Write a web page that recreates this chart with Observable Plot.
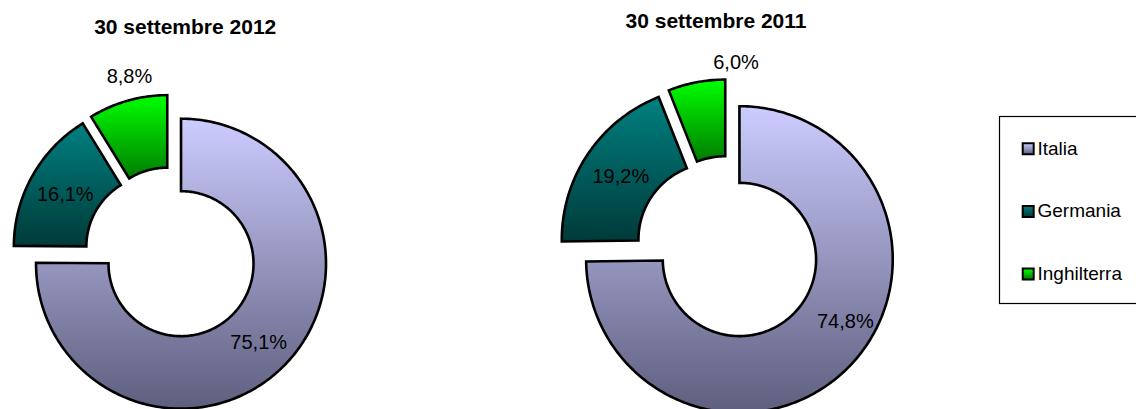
<!DOCTYPE html>
<html>
<head>
<meta charset="utf-8">
<script src="https://cdn.jsdelivr.net/npm/d3@7"></script>
<script src="https://cdn.jsdelivr.net/npm/@observablehq/plot@0.6"></script>
<style>
  html, body { margin: 0; padding: 0; background: #fff; overflow: hidden; }
  #chart { width: 1136px; height: 409px; position: relative; }
</style>
</head>
<body>
<div id="chart"></div>
<script>
// ---------------- data ----------------
const categories = ["Italia", "Germania", "Inghilterra"];
const periods = ["30 settembre 2012", "30 settembre 2011"];
const share2012 = [75.1, 16.1, 8.8];
const share2011 = [74.8, 19.2, 6.0];
const topColors = ["#CCCCFF", "#008080", "#00FF00"];
const bottomColors = ["#5E5E7E", "#003A3A", "#007C00"];

// ---------------- layout ----------------
const W = 1136, H = 409;
const FONT = "'Liberation Sans', Arial, Helvetica, sans-serif";
const donuts = [
  { period: periods[0], values: share2012, cx: 170.6, cy: 253.2, R: 145, hole: 0.5, explode: 0.097,
    titleX: 184.7, titleY: 26.6,
    labelAt: [{ r: 0.76 }, { r: 0.74 }, { r: 1.16, a: 347 }] },
  { period: periods[1], values: share2011, cx: 727.7, cy: 247.9, R: 153.3, hole: 0.5, explode: 0.103,
    titleX: 715.5, titleY: 20.6,
    labelAt: [{ r: 0.80, a: 120.3 }, { r: 0.74 }, { r: 1.12, a: 3.6 }] }
];
const legend = { x1: 999.5, x2: 1140, y1: 116.5, y2: 303.5, swatchX: 1027.7, textX: 1037, firstY: 148.3, step: 62.6 };

const fmt = v => v.toFixed(1).replace(".", ",") + "%";

// gradients
const defs = d3.select("body").append("svg")
  .attr("width", 0).attr("height", 0)
  .style("position", "absolute").style("left", 0).style("top", 0)
  .append("defs");
categories.forEach((c, i) => {
  const g = defs.append("linearGradient").attr("id", "grad" + i)
    .attr("x1", 0).attr("y1", 0).attr("x2", 0).attr("y2", 1);
  g.append("stop").attr("offset", 0).attr("stop-color", topColors[i]);
  g.append("stop").attr("offset", 1).attr("stop-color", bottomColors[i]);
});

// build slice polygons from values
const pie = d3.pie().sort(null).value(d => d).startAngle(0).endAngle(2 * Math.PI);
const slices = [];
const labels = [];
const titles = [];
donuts.forEach((dn, k) => {
  titles.push({ text: dn.period, x: dn.titleX, y: dn.titleY });
  pie(dn.values).forEach((arc, i) => {
    const mid = (arc.startAngle + arc.endAngle) / 2;
    const off = dn.explode * dn.R;
    const ox = dn.cx + off * Math.sin(mid);
    const oy = dn.cy - off * Math.cos(mid);
    const r1 = dn.R, r0 = dn.R * dn.hole;
    const n = Math.max(2, Math.ceil((arc.endAngle - arc.startAngle) / (Math.PI / 180)));
    const pts = [];
    for (let j = 0; j <= n; j++) {
      const a = arc.startAngle + (arc.endAngle - arc.startAngle) * j / n;
      pts.push({ x: ox + r1 * Math.sin(a), y: oy - r1 * Math.cos(a) });
    }
    for (let j = n; j >= 0; j--) {
      const a = arc.startAngle + (arc.endAngle - arc.startAngle) * j / n;
      pts.push({ x: ox + r0 * Math.sin(a), y: oy - r0 * Math.cos(a) });
    }
    slices.push({ pts, fill: `url(#grad${i})` });
    const la = dn.labelAt[i];
    const ang = la.a != null ? la.a * Math.PI / 180 : mid;
    const lr = la.r * dn.R;
    labels.push({ text: fmt(dn.values[i]), x: ox + lr * Math.sin(ang), y: oy - lr * Math.cos(ang) + 0.6 });
  });
});

const legendItems = categories.map((c, i) => ({
  name: c, fill: `url(#grad${i})`, y: legend.firstY + i * legend.step
}));

const plot = Plot.plot({
  width: W, height: H,
  margin: 0,
  style: { fontFamily: FONT, background: "#fff", color: "#000" },
  x: { domain: [0, W], range: [0, W], axis: null },
  y: { domain: [0, H], range: [0, H], axis: null },
  color: { type: "identity" },
  marks: [
    ...slices.map(s => Plot.line(s.pts, {
      x: "x", y: "y", curve: "linear-closed",
      fill: s.fill, stroke: "#000", strokeWidth: 2.6,
      strokeLinejoin: "miter", strokeMiterlimit: 10
    })),
    Plot.text(labels, { x: "x", y: "y", text: "text", fontSize: 20, fill: "#000" }),
    Plot.text(titles, { x: "x", y: "y", text: "text", fontSize: 21, fontWeight: "bold", fill: "#000" }),
    Plot.rect([legend], { x1: "x1", x2: "x2", y1: "y1", y2: "y2", fill: "none", stroke: "#000", strokeWidth: 1.2 }),
    Plot.dot(legendItems, { x: () => legend.swatchX, y: "y", symbol: "square", r: 6.2, fill: "fill", stroke: "#000", strokeWidth: 2 }),
    Plot.text(legendItems, { x: () => legend.textX, y: "y", text: "name", textAnchor: "start", fontSize: 19, fill: "#000" })
  ]
});
document.getElementById("chart").appendChild(plot);
</script>
</body>
</html>
